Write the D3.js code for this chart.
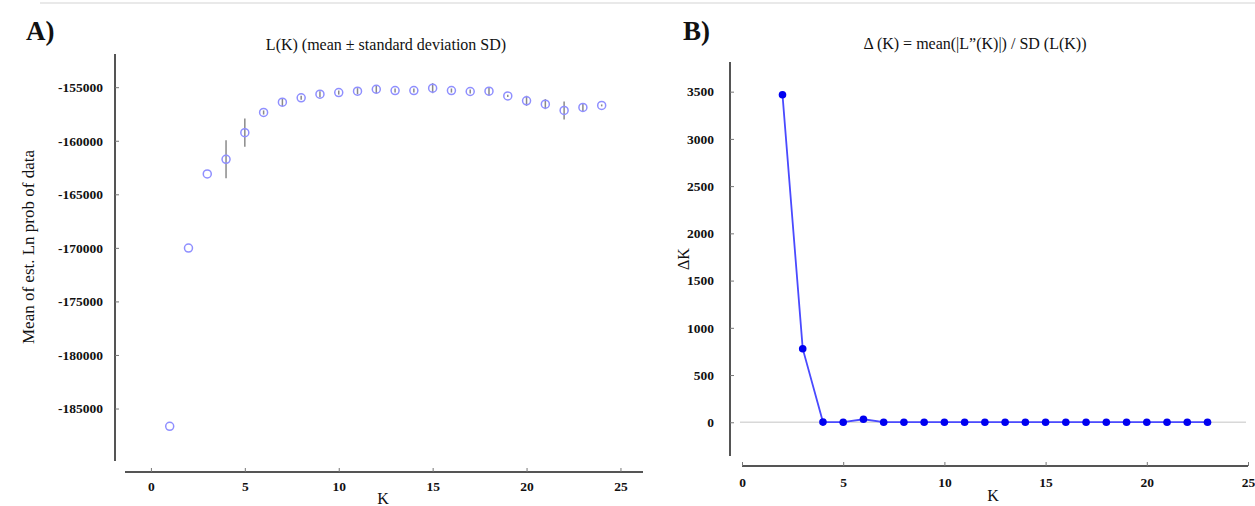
<!DOCTYPE html>
<html>
<head>
<meta charset="utf-8">
<script src="https://cdn.jsdelivr.net/npm/d3@7"></script>
<style>
  html, body { margin: 0; padding: 0; background: #fff; }
  svg { display: block; }
  text { font-family: "Liberation Serif", "Times New Roman", serif; fill: #111; }
</style>
</head>
<body>
<script>
// ---------- data ----------
const kValuesA = [1,2,3,4,5,6,7,8,9,10,11,12,13,14,15,16,17,18,19,20,21,22,23,24];
const meanLnProb = [-186660,-170020,-163100,-161730,-159250,-157360,-156400,-155990,-155650,-155500,-155370,-155190,-155310,-155310,-155090,-155310,-155400,-155370,-155810,-156270,-156580,-157170,-156890,-156700];
const sdLnProb = [0,0,0,1770,1320,190,370,190,280,190,280,370,190,190,470,190,190,370,100,470,470,840,370,90];
const kValuesB = [2,3,4,5,6,7,8,9,10,11,12,13,14,15,16,17,18,19,20,21,22,23];
const deltaK = [3468,779,2,1,32,1,1,1,1,1,1,1,1,1,1,1,1,1,1,1,1,1];
const yTicksA = [-185000,-180000,-175000,-170000,-165000,-160000,-155000];
const yTicksB = [0,500,1000,1500,2000,2500,3000,3500];
const xTicks = [0,5,10,15,20,25];

const W = 1255, H = 506;
const svg = d3.select("body").append("svg").attr("width", W).attr("height", H);
const fmt = d => String(d);

// top thin separator line
svg.append("line").attr("x1", 40).attr("x2", W).attr("y1", 3).attr("y2", 3)
  .attr("stroke", "#e2e2e2").attr("stroke-width", 1.5);

function styleAxis(g, sw) {
  g.select(".domain").attr("stroke", "#555").attr("stroke-width", sw || 2);
  g.selectAll(".tick line").attr("stroke", "#777").attr("stroke-width", 1);
  g.selectAll(".tick text").attr("font-weight", "bold").attr("font-size", 13.5).attr("fill", "#111");
}

// ---------- Panel A ----------
const xA = d3.scaleLinear().domain([-1.38, 26.2]).range([125, 643]);
const yA = d3.scaleLinear().domain([-189900, -151900]).range([461, 54]);

svg.append("text").attr("x", 26).attr("y", 40).attr("font-size", 27).attr("font-weight", "bold").text("A)");
svg.append("text").attr("x", 386).attr("y", 50).attr("text-anchor", "middle").attr("font-size", 16)
  .text("L(K) (mean \u00b1 standard  deviation  SD)");

const gyA = svg.append("g").attr("transform", "translate(115,0)")
  .call(d3.axisRight(yA).tickValues(yTicksA).tickSize(4).tickFormat(fmt));
styleAxis(gyA);
gyA.selectAll(".tick text").attr("x", -12).attr("text-anchor", "end");
gyA.select(".domain").attr("d", `M0,${yA.range()[0]}V${yA.range()[1]}`);

const gxA = svg.append("g").attr("transform", "translate(0,472)")
  .call(d3.axisTop(xA).tickValues(xTicks).tickSize(4).tickFormat(fmt));
styleAxis(gxA);
gxA.select(".domain").attr("d", `M${xA.range()[0]},0H${xA.range()[1]}`);
gxA.selectAll(".tick text").attr("y", 19).attr("dy", 0);

svg.append("text").attr("transform", "translate(34,247) rotate(-90)").attr("text-anchor", "middle")
  .attr("font-size", 17).text("Mean of est.  Ln prob of data");
svg.append("text").attr("x", 383).attr("y", 504).attr("text-anchor", "middle").attr("font-size", 16).text("K");

const ptsA = kValuesA.map((k, i) => ({k, m: meanLnProb[i], sd: sdLnProb[i]}));
svg.append("g").selectAll("line").data(ptsA.filter(d => d.sd > 0)).join("line")
  .attr("x1", d => xA(d.k)).attr("x2", d => xA(d.k))
  .attr("y1", d => yA(d.m - d.sd)).attr("y2", d => yA(d.m + d.sd))
  .attr("stroke", "#8a8a8a").attr("stroke-width", 1.5);
svg.append("g").selectAll("circle").data(ptsA).join("circle")
  .attr("cx", d => xA(d.k)).attr("cy", d => yA(d.m)).attr("r", 4)
  .attr("fill", "none").attr("stroke", "#8f8fff").attr("stroke-width", 1.5);

// ---------- Panel B ----------
const xB = d3.scaleLinear().domain([0, 25]).range([742, 1248]);
const yB = d3.scaleLinear().domain([-357, 3814]).range([456, 62]);

svg.append("text").attr("x", 683).attr("y", 40).attr("font-size", 27).attr("font-weight", "bold").text("B)");
svg.append("text").attr("x", 975).attr("y", 49).attr("text-anchor", "middle").attr("font-size", 16)
  .text("\u0394 (K) = mean(|L\u201d(K)|)  / SD (L(K))");

svg.append("line").attr("x1", 740).attr("x2", 1246).attr("y1", yB(0)).attr("y2", yB(0))
  .attr("stroke", "#d8d8d8").attr("stroke-width", 1.5);

const gyB = svg.append("g").attr("transform", "translate(730,0)")
  .call(d3.axisRight(yB).tickValues(yTicksB).tickSize(4).tickFormat(fmt));
styleAxis(gyB);
gyB.selectAll(".tick text").attr("x", -16).attr("text-anchor", "end");
gyB.select(".domain").attr("d", `M0,${yB.range()[0]}V${yB.range()[1]}`);

const gxB = svg.append("g").attr("transform", "translate(0,466)")
  .call(d3.axisTop(xB).tickValues(xTicks).tickSize(4).tickFormat(fmt));
styleAxis(gxB);
gxB.select(".domain").attr("d", `M${xB.range()[0]},0H${xB.range()[1]}`);
gxB.selectAll(".tick text").attr("y", 21).attr("dy", 0);

svg.append("text").attr("transform", "translate(689,259) rotate(-90)").attr("text-anchor", "middle")
  .attr("font-size", 16).text("\u0394K");
svg.append("text").attr("x", 993).attr("y", 501).attr("text-anchor", "middle").attr("font-size", 16).text("K");

const ptsB = kValuesB.map((k, i) => ({k, v: deltaK[i]}));
svg.append("path").datum(ptsB)
  .attr("d", d3.line().x(d => xB(d.k)).y(d => yB(d.v)))
  .attr("fill", "none").attr("stroke", "#4a4aff").attr("stroke-width", 1.8);
svg.append("g").selectAll("circle").data(ptsB).join("circle")
  .attr("cx", d => xB(d.k)).attr("cy", d => yB(d.v)).attr("r", 3.8)
  .attr("fill", "#0000f0");
</script>
</body>
</html>
